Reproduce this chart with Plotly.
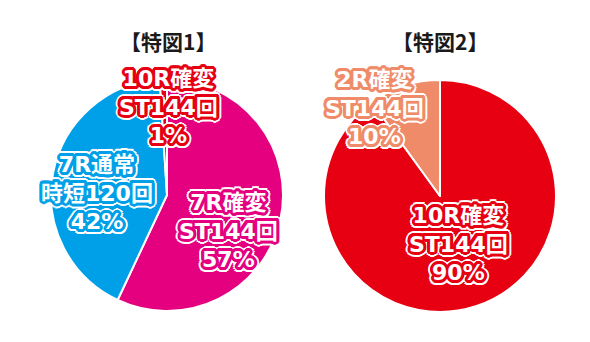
import math
import plotly.graph_objects as go

W, H = 590, 342

# ---- data ----
titles = ["【特図1】", "【特図2】"]
pie1_labels = ["7R確変ST144回", "7R通常時短120回", "10R確変ST144回"]
pie1_values = [57, 42, 1]
pie1_colors = ["#e4007f", "#00a0e9", "#e60012"]
pie2_labels = ["10R確変ST144回", "2R確変ST144回"]
pie2_values = [90, 10]
pie2_colors = ["#e60012", "#ef8b68"]

# label text lines per slice
pie1_text = [["7R確変", "ST144回", "57%"], ["7R通常", "時短120回", "42%"], ["10R確変", "ST144回", "1%"]]
pie2_text = [["10R確変", "ST144回", "90%"], ["2R確変", "ST144回", "10%"]]

# ---- layout constants (pixels) ----
pie_geo = [(167, 195, 116), (440, 196, 116)]
label_pos1 = [(228, 231), (97, 193), (168, 107)]
label_pos2 = [(458, 244), (374, 108)]
title_pos = [(168, 41), (440, 41)]

FONT = "DejaVu Sans, Noto Sans CJK JP, sans-serif"
JFONT = "Noto Sans CJK JP, sans-serif"


def outline(color, r1=3, r2=5):
    parts = []
    for r, c in ((r1, color), (r2, "#ffffff")):
        for k in range(16):
            a = 2 * math.pi * k / 16
            parts.append(f"{r*math.cos(a):.1f}px {r*math.sin(a):.1f}px 0 {c}")
    return ", ".join(parts)


def domain(cx, cy, r):
    return dict(x=[(cx - r) / W, (cx + r) / W], y=[1 - (cy + r) / H, 1 - (cy - r) / H])


fig = go.Figure()
for (vals, labs, cols), geo in zip(
    [(pie1_values, pie1_labels, pie1_colors), (pie2_values, pie2_labels, pie2_colors)], pie_geo
):
    fig.add_trace(go.Pie(
        values=vals, labels=labs, marker=dict(colors=cols, line=dict(color="white", width=2)),
        sort=False, direction="clockwise", rotation=0, textinfo="none", hoverinfo="label+percent",
        domain=domain(*geo), showlegend=False,
    ))

annotations = []
for t, (x, y) in zip(titles, title_pos):
    annotations.append(dict(text=t, x=x, y=y, xref="x", yref="y", showarrow=False,
                            font=dict(family=JFONT, size=21, color="#1a1a1a", weight="bold")))

for texts, poss, cols in ((pie1_text, label_pos1, pie1_colors), (pie2_text, label_pos2, pie2_colors)):
    for lines, (x, y), c in zip(texts, poss, cols):
        annotations.append(dict(text="<br>".join(lines), x=x, y=y, xref="x", yref="y",
                                showarrow=False, align="center",
                                font=dict(family=FONT, size=22, color="white", weight="bold",
                                          shadow=outline(c))))

fig.update_layout(
    width=W, height=H, margin=dict(l=0, r=0, t=0, b=0),
    paper_bgcolor="white", plot_bgcolor="rgba(0,0,0,0)",
    xaxis=dict(range=[0, W], visible=False, fixedrange=True),
    yaxis=dict(range=[H, 0], visible=False, fixedrange=True),
    annotations=annotations,
)
fig.write_html("out.html")
